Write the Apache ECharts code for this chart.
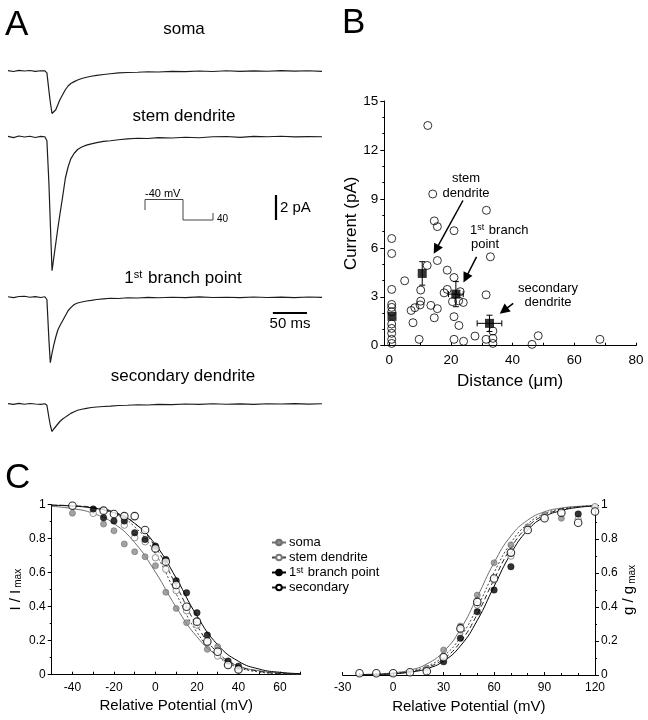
<!DOCTYPE html>
<html><head><meta charset="utf-8">
<script src="https://cdn.jsdelivr.net/npm/echarts@6/dist/echarts.min.js"></script>
<style>html,body{margin:0;padding:0;background:#fff}#c{width:648px;height:720px}</style>
</head><body><div id="c"></div>
<script>
const FONT = '"Liberation Sans", Arial, sans-serif';

// ---------- Panel A: current traces (pA) vs time (ms) ----------
const traceTime = [0,8,16,24,32,40,48,54,57,60,62,64.5,67,70,73,76,80,84,88,92,97,102,108,115,122,130,140,150,162,175,190,205,220,240,260,280,300,320,340,360,380,400,420,440,460];
const somaTrace = [0.03,-0.04,0.05,0.0,0.04,-0.03,0.02,0.01,-0.15,-1.6,-2.5,-3.4,-3.3,-3.1,-2.7,-2.3,-1.9,-1.5,-1.2,-1.0,-0.85,-0.72,-0.6,-0.5,-0.42,-0.35,-0.28,-0.22,-0.15,-0.12,-0.1,-0.06,-0.08,-0.03,-0.05,0.0,-0.04,0.02,-0.03,0.01,-0.02,0.03,-0.01,0.02,-0.03];
const stemTrace = [0.05,-0.05,0.08,0.0,0.06,-0.04,0.05,0.02,-0.3,-3.8,-6.9,-10.7,-9.7,-8.5,-7.3,-6.2,-4.8,-3.3,-2.4,-1.75,-1.3,-1.0,-0.8,-0.65,-0.55,-0.45,-0.35,-0.3,-0.22,-0.15,-0.1,-0.12,-0.05,-0.08,-0.02,-0.06,0.02,0.04,-0.03,0.05,0.02,0.06,0.01,0.03,0.02];
const branchTrace = [0.02,-0.05,0.04,0.06,-0.02,0.03,-0.04,0.02,-0.2,-3.5,-5.25,-4.5,-3.85,-3.2,-2.64,-2.3,-1.9,-1.5,-1.1,-0.85,-0.6,-0.48,-0.4,-0.32,-0.27,-0.2,-0.15,-0.1,-0.12,-0.06,-0.08,-0.03,-0.06,-0.02,-0.05,0.01,-0.04,-0.02,-0.05,0.0,-0.04,-0.01,-0.05,0.0,-0.03];
const secondaryTrace = [0.03,-0.03,0.05,-0.02,0.04,0.0,-0.03,0.02,-0.1,-1.1,-1.7,-2.2,-2.0,-1.8,-1.6,-1.4,-1.2,-1.05,-0.9,-0.75,-0.62,-0.5,-0.42,-0.35,-0.28,-0.24,-0.2,-0.17,-0.12,-0.1,-0.06,-0.08,-0.03,-0.05,0.0,-0.03,0.02,-0.02,0.01,-0.03,0.02,0.0,0.03,-0.01,0.02];
const traceLabels = ['soma', 'stem dendrite', '1{sup|st} branch point', 'secondary dendrite'];
const scaleCurrent = 2;   // pA
const scaleTime = 50;     // ms

// ---------- Panel B: current vs distance ----------
const distance = [12.5,14.1,31.5,14.6,15.6,21,0.8,0.8,32.8,15.6,12.3,18.8,21,5,0.8,10.2,18.8,17.8,23,24,31.4,0.8,10.2,13.5,10.0,0.8,8.3,7.1,15.6,0.8,14.6,21,7.7,0.8,22.6,33.6,0.8,0.8,27.8,48.3,9.7,21,31.4,33.6,68.3,0.8,24.1,33.6,46.3,0.8,20.5,22.5];
const current = [13.5,9.3,8.3,7.65,7.3,7.05,6.57,5.65,5.45,5.22,4.92,4.63,4.18,3.98,3.45,3.41,3.45,3.24,3.31,2.65,3.12,2.53,2.73,2.47,2.5,2.35,2.33,2.16,2.27,2.08,1.71,1.78,1.41,1.33,1.24,0.9,1.06,0.76,0.59,0.61,0.39,0.39,0.39,0.45,0.39,0.39,0.27,0.14,0.08,0.14,2.7,2.75];
const meanDistance = [0.9,10.7,21.6,32.5];
const meanCurrent = [1.8,4.43,3.16,1.37];
const meanDistanceErr = [0,0,2.4,4.0];
const meanCurrentErr = [0,0.72,0.77,0.5];

// ---------- Panel C ----------
const seriesNames = ['soma','stem dendrite','1st branch point','secondary'];
// inactivation (left)
const inactFitV = [-50,-40,-30,-20,-10,0,10,20,30,40,50,60,70];
const inactFitSoma = [0.990,0.977,0.949,0.889,0.777,0.603,0.397,0.223,0.111,0.051,0.023,0.010,0.004];
const inactFitStem = [0.997,0.993,0.980,0.948,0.870,0.711,0.475,0.250,0.109,0.043,0.016,0.006,0.002];
const inactFitBranch = [0.997,0.992,0.980,0.953,0.890,0.765,0.568,0.346,0.176,0.079,0.033,0.014,0.006];
const inactFitSecondary = [0.998,0.994,0.984,0.957,0.891,0.750,0.525,0.289,0.130,0.052,0.020,0.007,0.003];
const inactSomaV = [-40,-25,-20,-15,-10,-5,0,5,10,15,25,30];
const inactSoma = [0.95,0.886,0.847,0.769,0.723,0.694,0.641,0.485,0.39,0.306,0.149,0.165];
const inactStemV = [-30,-15,-10,-5,0,5,10,15,20,25,30,35,40];
const inactStem = [0.949,0.88,0.806,0.782,0.688,0.62,0.495,0.376,0.292,0.188,0.11,0.06,0.028];
const inactBranchV = [-30,-25,-20,-15,-10,-5,0,5,10,15,20,25,35,40];
const inactBranch = [0.975,0.923,0.904,0.904,0.835,0.796,0.757,0.678,0.553,0.482,0.365,0.233,0.08,0.05];
const inactSecondaryV = [-40,-25,-20,-15,-10,-5,0,5,10,15,20,25,30,35,40];
const inactSecondary = [0.994,0.965,0.945,0.933,0.933,0.851,0.743,0.665,0.528,0.40,0.312,0.195,0.135,0.057,0.031];
// activation (right)
const actFitV = [-20,-10,0,10,20,30,40,50,60,70,80,90,100,110,120];
const actFitSoma = [0.003,0.006,0.013,0.029,0.065,0.138,0.269,0.459,0.661,0.818,0.911,0.960,0.982,0.992,0.996];
const actFitStem = [0.002,0.004,0.010,0.023,0.051,0.111,0.223,0.397,0.603,0.777,0.889,0.949,0.977,0.990,0.996];
const actFitBranch = [0.001,0.003,0.007,0.017,0.037,0.082,0.171,0.321,0.521,0.714,0.852,0.930,0.967,0.986,0.994];
const actFitSecondary = [0.002,0.004,0.009,0.020,0.044,0.095,0.195,0.358,0.562,0.747,0.872,0.940,0.972,0.988,0.995];
const actSomaV = [20,30,40,50,60,70,80,90,100,120];
const actSoma = [0.04,0.147,0.288,0.47,0.66,0.765,0.872,0.941,0.922,0.986];
const actStemV = [30,40,50,60,70,90,110,120];
const actStem = [0.11,0.265,0.412,0.559,0.70,0.93,0.916,0.99];
const actBranchV = [30,40,50,60,70,110];
const actBranch = [0.078,0.216,0.372,0.5,0.637,0.947];
const actSecondaryV = [-20,-10,0,10,20,30,40,50,60,70,80,90,100,110,120];
const actSecondary = [0.01,0.01,0.01,0.016,0.022,0.104,0.274,0.43,0.568,0.72,0.853,0.922,0.955,0.896,0.962];

// ---------- build ----------
const pairs = (xs, ys) => xs.map((x, i) => [x, ys[i]]);
const axisLine = {show: true, onZero: false, lineStyle: {color: '#000', width: 1}};
const tickStyle = {color: '#000', width: 1};

const traceBaselines = [71, 137, 297, 404];
const pxPerPA = 12.5;
const grids = traceBaselines.map(b => ({left: 8, width: 314, top: b - pxPerPA, height: pxPerPA * 12}));
grids.push({left: 384.3, top: 101, width: 251.7, height: 244.7});   // B
grids.push({left: 51.7, top: 504.7, width: 249, height: 170});      // C left
grids.push({left: 342.7, top: 505, width: 252.3, height: 170});     // C right

const xAxes = traceBaselines.map((b, i) => ({gridIndex: i, type: 'value', min: 0, max: 460, show: false}));
const yAxes = traceBaselines.map((b, i) => ({gridIndex: i, type: 'value', min: -11, max: 1, show: false}));

xAxes.push({gridIndex: 4, type: 'value', min: -1.6, max: 80, axisLine, splitLine: {show: false},
  axisTick: {show: true, inside: true, length: 3, lineStyle: tickStyle, customValues: [0,10,20,30,40,50,60,70,80]},
  axisLabel: {customValues: [0,20,40,60,80], color: '#000', fontSize: 13.5, fontFamily: FONT, margin: 8},
  name: 'Distance (μm)', nameLocation: 'middle', nameGap: 27, nameTextStyle: {fontSize: 17, fontFamily: FONT, color: '#000'}});
yAxes.push({gridIndex: 4, type: 'value', min: 0, max: 15, interval: 3, axisLine, splitLine: {show: false},
  axisTick: {show: true, length: 4, lineStyle: tickStyle}, minorTick: {show: true, splitNumber: 3, length: 2, lineStyle: tickStyle},
  axisLabel: {color: '#000', fontSize: 13.5, fontFamily: FONT, margin: 6},
  name: 'Current (pA)', nameLocation: 'middle', nameRotate: 90, nameGap: 24, nameTextStyle: {fontSize: 17, fontFamily: FONT, color: '#000'}});

xAxes.push({gridIndex: 5, type: 'value', min: -50, max: 70, interval: 10, axisLine, splitLine: {show: false},
  axisTick: {show: true, inside: true, length: 3, lineStyle: tickStyle},
  axisLabel: {color: '#000', fontSize: 12, fontFamily: FONT, margin: 7, formatter: v => (v % 20 === 0 ? String(v) : '')},
  name: 'Relative Potential (mV)', nameLocation: 'middle', nameGap: 24, nameTextStyle: {fontSize: 15, fontFamily: FONT, color: '#000'}});
yAxes.push({gridIndex: 5, type: 'value', min: 0, max: 1, interval: 0.2, axisLine, splitLine: {show: false},
  axisTick: {show: true, length: 4, lineStyle: tickStyle}, minorTick: {show: true, splitNumber: 2, length: 2, lineStyle: tickStyle},
  axisLabel: {color: '#000', fontSize: 12, fontFamily: FONT, margin: 6},
  name: 'I / I{sub|max}', nameLocation: 'middle', nameRotate: 90, nameGap: 28,
  nameTextStyle: {fontSize: 15, fontFamily: FONT, color: '#000', rich: {sub: {fontSize: 10, fontFamily: FONT, verticalAlign: 'bottom', padding: [6, 0, 0, 2]}}}});

xAxes.push({gridIndex: 6, type: 'value', min: -30, max: 120, interval: 30, axisLine, splitLine: {show: false},
  axisTick: {show: true, inside: true, length: 3, lineStyle: tickStyle}, minorTick: {show: true, splitNumber: 3, length: 2, lineStyle: tickStyle},
  axisLabel: {color: '#000', fontSize: 12, fontFamily: FONT, margin: 7},
  name: 'Relative Potential (mV)', nameLocation: 'middle', nameGap: 24, nameTextStyle: {fontSize: 15, fontFamily: FONT, color: '#000'}});
yAxes.push({gridIndex: 6, type: 'value', position: 'right', min: 0, max: 1, interval: 0.2, axisLine, splitLine: {show: false},
  axisTick: {show: true, length: 4, lineStyle: tickStyle}, minorTick: {show: true, splitNumber: 2, length: 2, lineStyle: tickStyle},
  axisLabel: {color: '#000', fontSize: 12, fontFamily: FONT, margin: 6},
  name: 'g / g{sub|max}', nameLocation: 'middle', nameRotate: 90, nameGap: 19,
  nameTextStyle: {fontSize: 15, fontFamily: FONT, color: '#000', rich: {sub: {fontSize: 10, fontFamily: FONT, verticalAlign: 'bottom', padding: [6, 0, 0, 2]}}}});

const series = [];
[somaTrace, stemTrace, branchTrace, secondaryTrace].forEach((tr, i) => {
  series.push({type: 'line', xAxisIndex: i, yAxisIndex: i, data: pairs(traceTime, tr), showSymbol: false,
    lineStyle: {color: '#1c1c1c', width: 1.2}, silent: true});
});
// scale bars (drawn in trace coordinates)
series.push({type: 'line', xAxisIndex: 1, yAxisIndex: 1, showSymbol: false, silent: true,
  data: [[392.6, -4.64], [392.6, -4.64 - scaleCurrent]], lineStyle: {color: '#000', width: 2.2}});
series.push({type: 'line', xAxisIndex: 2, yAxisIndex: 2, showSymbol: false, silent: true,
  data: [[388, -1.28], [388 + scaleTime, -1.28]], lineStyle: {color: '#000', width: 2}});

// Panel B
series.push({type: 'scatter', xAxisIndex: 4, yAxisIndex: 4, data: pairs(distance, current), symbol: 'circle', symbolSize: 8,
  itemStyle: {color: 'rgba(255,255,255,0)', borderColor: '#000', borderWidth: 1}, silent: true,
  markLine: {silent: true, symbol: ['none', 'triangle'], symbolSize: 10, label: {show: false},
    lineStyle: {color: '#000', width: 1.5, type: 'solid'}, animation: false,
    data: [
      [{coord: [23.9, 8.9]}, {coord: [15.2, 5.9]}],
      [{coord: [28.3, 5.45]}, {coord: [24.8, 4.15]}],
      [{coord: [40.2, 2.6]}, {coord: [37.1, 2.15]}]
    ]}});
series.push({type: 'custom', xAxisIndex: 4, yAxisIndex: 4, z: 3, silent: true,
  data: meanDistance.map((d, i) => [d, meanCurrent[i], meanDistanceErr[i], meanCurrentErr[i]]),
  encode: {x: 0, y: 1},
  renderItem: (params, api) => {
    const x = api.value(0), y = api.value(1), ex = api.value(2), ey = api.value(3);
    const c = api.coord([x, y]);
    const style = {stroke: '#000', lineWidth: 1};
    const ch = [];
    if (ey > 0) {
      const t = api.coord([x, y + ey]), b = api.coord([x, y - ey]);
      ch.push({type: 'line', shape: {x1: c[0], y1: t[1], x2: c[0], y2: b[1]}, style});
      ch.push({type: 'line', shape: {x1: c[0] - 3, y1: t[1], x2: c[0] + 3, y2: t[1]}, style});
      ch.push({type: 'line', shape: {x1: c[0] - 3, y1: b[1], x2: c[0] + 3, y2: b[1]}, style});
    }
    if (ex > 0) {
      const l = api.coord([x - ex, y]), r = api.coord([x + ex, y]);
      ch.push({type: 'line', shape: {x1: l[0], y1: c[1], x2: r[0], y2: c[1]}, style});
      ch.push({type: 'line', shape: {x1: l[0], y1: c[1] - 3, x2: l[0], y2: c[1] + 3}, style});
      ch.push({type: 'line', shape: {x1: r[0], y1: c[1] - 3, x2: r[0], y2: c[1] + 3}, style});
    }
    return {type: 'group', children: ch};
  }});
series.push({type: 'scatter', xAxisIndex: 4, yAxisIndex: 4, z: 4, data: pairs(meanDistance, meanCurrent), symbol: 'rect', symbolSize: 9,
  itemStyle: {color: '#000'}, silent: true});

// Panel C
const styles = [
  {size: 6, item: {color: '#8c8c8c', borderColor: '#6e6e6e', borderWidth: 0.8}, line: {color: '#6e6e6e', type: 'solid', width: 1}},
  {size: 6.5, item: {color: '#fff', borderColor: '#7a7a7a', borderWidth: 1}, line: {color: '#444', type: [2, 2], width: 1}},
  {size: 6.5, item: {color: '#000', borderColor: '#000', borderWidth: 0.5}, line: {color: '#000', type: 'solid', width: 1}},
  {size: 7.5, item: {color: '#fff', borderColor: '#000', borderWidth: 1.1}, line: {color: '#222', type: [5, 3], width: 1}}
];
// legend entries (line + marker icon), no data of their own
seriesNames.forEach((n, i) => {
  series.push({type: 'line', name: n, xAxisIndex: 5, yAxisIndex: 5, data: [], symbol: 'circle', symbolSize: styles[i].size,
    lineStyle: {color: styles[i].line.color, width: 1, type: 'solid'}, itemStyle: styles[i].item, silent: true});
});
const inactFits = [inactFitSoma, inactFitStem, inactFitBranch, inactFitSecondary];
const actFits = [actFitSoma, actFitStem, actFitBranch, actFitSecondary];
const inactData = [pairs(inactSomaV, inactSoma), pairs(inactStemV, inactStem), pairs(inactBranchV, inactBranch), pairs(inactSecondaryV, inactSecondary)];
const actData = [pairs(actSomaV, actSoma), pairs(actStemV, actStem), pairs(actBranchV, actBranch), pairs(actSecondaryV, actSecondary)];
seriesNames.forEach((n, i) => {
  series.push({type: 'line', name: n + ' fit (inactivation)', xAxisIndex: 5, yAxisIndex: 5, data: pairs(inactFitV, inactFits[i]),
    showSymbol: false, smooth: 0.5, lineStyle: styles[i].line, silent: true, z: 2});
  series.push({type: 'line', name: n + ' fit (activation)', xAxisIndex: 6, yAxisIndex: 6, data: pairs(actFitV, actFits[i]),
    showSymbol: false, smooth: 0.5, lineStyle: styles[i].line, silent: true, z: 2});
});
seriesNames.forEach((n, i) => {
  [[5, inactData[i]], [6, actData[i]]].forEach(([ax, d]) => {
    series.push({type: 'scatter', name: n, xAxisIndex: ax, yAxisIndex: ax, data: d, symbol: 'circle', symbolSize: styles[i].size,
      itemStyle: styles[i].item, silent: true, z: 5 + i});
  });
});

const txt = (text, x, y, size, align, extra) => Object.assign({type: 'text', x, y, silent: true,
  style: {text, font: size + 'px ' + FONT, fill: '#000', textAlign: align || 'left', textVerticalAlign: 'middle'}}, extra || {});

const graphic = [
  txt('A', 5, 25, 35), txt('B', 342, 23, 35), txt('C', 5, 478, 35),
  txt('soma', 184, 29, 17, 'center'),
  txt('stem dendrite', 184, 116, 17, 'center'),
  {type: 'text', x: 183, y: 278, silent: true, style: {text: traceLabels[2], font: '17px ' + FONT, fill: '#000', textAlign: 'center', textVerticalAlign: 'middle',
    rich: {sup: {fontSize: 11, fontFamily: FONT, verticalAlign: 'top', padding: [0, 1, 6, 0]}}}},
  txt('secondary dendrite', 183, 376, 17, 'center'),
  txt('2 pA', 280, 208, 15), txt('50 ms', 290, 324, 15, 'center'),
  txt('-40 mV', 145, 194, 11), txt('40', 217, 219, 10),
  {type: 'polyline', silent: true, shape: {points: [[145, 210], [145, 199.5], [183, 199.5], [183, 220], [213, 220], [213, 213]]},
    style: {stroke: '#444', lineWidth: 1, fill: null}},
  txt('stem', 466, 178, 13, 'center'), txt('dendrite', 466, 193, 13, 'center'),
  {type: 'text', x: 470, y: 230, silent: true, style: {text: '1{sup|st} branch', font: '13px ' + FONT, fill: '#000', textAlign: 'left', textVerticalAlign: 'middle',
    rich: {sup: {fontSize: 9, fontFamily: FONT, verticalAlign: 'top', padding: [0, 1, 4, 0]}}}},
  txt('point', 471, 244, 13),
  txt('secondary', 548, 288, 13, 'center'), txt('dendrite', 548, 302, 13, 'center')
];

const option = {
  animation: false,
  textStyle: {fontFamily: FONT, color: '#000'},
  grid: grids, xAxis: xAxes, yAxis: yAxes, series, graphic,
  legend: {orient: 'vertical', left: 266, top: 531, itemGap: 2, itemWidth: 14, itemHeight: 7, selectedMode: false,
    textStyle: {fontSize: 13, fontFamily: FONT, color: '#000', padding: [0, 0, 0, -2], rich: {sup: {fontSize: 9, fontFamily: FONT, verticalAlign: 'top', padding: [0, 1, 4, 0]}}},
    formatter: n => (n === '1st branch point' ? '1{sup|st} branch point' : n),
    data: seriesNames}
};
const chart = echarts.init(document.getElementById('c'));
chart.setOption(option);
</script></body></html>
